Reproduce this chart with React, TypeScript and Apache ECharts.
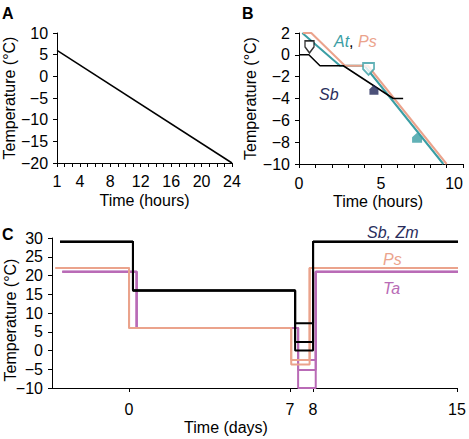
import React, { useEffect, useRef } from "react";
import * as echarts from "echarts";

// ---------- Panel A ----------
const aTime = [1, 24];
const aTemp = [6, -20];
const aTickLabels = [1, 4, 8, 12, 16, 20, 24];

// ---------- Panel B ----------
const bSbTime = [0, 0.6, 1.28, 2.7, 5.75, 6.35];
const bSbTemp = [0, 0, -1, -1, -4, -4];
const bAtTime = [0.2, 2.5, 4.0, 8.8];
const bAtTemp = [2, -1, -1, -10];
const bPsTime = [0.25, 0.75, 2.8, 4.2, 9.0];
const bPsTemp = [2, 2, -1, -1, -10];
const bMarkTime = [0.64, 4.24, 4.57, 7.2];
const bMarkTemp = [0.72, -1.3, -3.2, -7.6];

// ---------- Panel C ----------
// change points (days): start, drop to acclimation, drop to freeze, recovery, end
const cSbTime = [-3.0, 0.17, 7.22, 8.0, 15.1];
const cSbLevels = [29, 16, 29];
const cSbFreeze = [7.3, 2.3, 0];
const cPsTime = [-3.2, 0, 7.05, 7.85, 15.1];
const cPsLevels = [22, 6, 22];
const cPsFreeze = [-2.5, -3.7];
const cTaTime = [-2.9, 0.33, 7.35, 8.13, 15.1];
const cTaLevels = [21, 6, 21];
const cTaFreeze = [-2.5, -5.2, -10];
const cDayTicks = [0, 7, 8, 15];

const BLACK = "#000000";
const TEAL = "#3a9ea4";
const SALMON = "#eba38c";
const PURPLE = "#b96bb6";
const NAVY = "#2a2d5c";
const FONT = "Liberation Sans";

// schematic (broken) time scale of panel C: the recovery week is drawn compressed
const REC = 0.894;
const toU = (d: number) => (d <= 8 ? d : 8 + (d - 8) * REC);

const stepLines = (t: number[], lv: number[], fr: number[]) =>
  fr.map((f) => [
    [t[0], lv[0]],
    [t[1], lv[0]],
    [t[1], lv[1]],
    [t[2], lv[1]],
    [t[2], f],
    [t[3], f],
    [t[3], lv[2]],
    [t[4], lv[2]],
  ].map(([d, v]) => [toU(d), v]));

const minus = (v: number) => (v < 0 ? "\u2212" + Math.abs(v) : String(v));

const shieldDown = "path://M0,0 L10,0 L10,6 L5,12 L0,6 Z";
const houseUp = "path://M5,0 L10,5 L10,11 L0,11 L0,5 Z";

export default function App() {
  const ref = useRef<HTMLDivElement>(null);
  useEffect(() => {
    if (!ref.current) return;
    const chart = echarts.init(ref.current, null, { renderer: "svg" });
    const label = { color: BLACK, fontSize: 16, fontFamily: FONT, fontWeight: "normal" };
    const nameStyle = { color: BLACK, fontSize: 16, fontFamily: FONT, fontWeight: "normal" };
    const axLine = { show: true, onZero: false, lineStyle: { color: BLACK, width: 1 } };
    const tick = { show: true, length: 4, lineStyle: { color: BLACK, width: 1 } };

    const series: any[] = [];
    series.push({
      type: "line", xAxisIndex: 0, yAxisIndex: 0, symbol: "none",
      data: aTime.map((t, i) => [t, aTemp[i]]),
      lineStyle: { color: BLACK, width: 1.5 },
    });
    series.push({
      type: "line", xAxisIndex: 1, yAxisIndex: 1, symbol: "none", clip: false,
      data: bAtTime.map((t, i) => [t, bAtTemp[i]]),
      lineStyle: { color: TEAL, width: 2 }, z: 2,
    });
    series.push({
      type: "line", xAxisIndex: 1, yAxisIndex: 1, symbol: "none", clip: false,
      data: bPsTime.map((t, i) => [t, bPsTemp[i]]),
      lineStyle: { color: SALMON, width: 2 }, z: 3,
    });
    series.push({
      type: "line", xAxisIndex: 1, yAxisIndex: 1, symbol: "none",
      data: bSbTime.map((t, i) => [t, bSbTemp[i]]),
      lineStyle: { color: BLACK, width: 1.5 }, z: 4,
    });
    const markStyles = [
      { symbol: shieldDown, size: [9, 12], style: { color: "#ffffff", borderColor: BLACK, borderWidth: 1.5 } },
      { symbol: shieldDown, size: [11, 12], style: { color: "#ffffff", borderColor: TEAL, borderWidth: 1.8 } },
      { symbol: houseUp, size: [9, 10], style: { color: "#1f2557" } },
      { symbol: houseUp, size: [10, 10], style: { color: TEAL } },
    ];
    bMarkTime.forEach((t, i) => {
      series.push({
        type: "scatter", xAxisIndex: 1, yAxisIndex: 1, z: 5,
        symbol: markStyles[i].symbol, symbolSize: markStyles[i].size,
        itemStyle: markStyles[i].style,
        data: [[t, bMarkTemp[i]]],
      });
    });
    const addC = (lines: number[][][], color: string, z: number) =>
      lines.forEach((d) =>
        series.push({
          type: "line", xAxisIndex: 2, yAxisIndex: 2, symbol: "none", clip: false,
          data: d, lineStyle: { color, width: 2 }, z,
        })
      );
    addC(stepLines(cTaTime, cTaLevels, cTaFreeze), PURPLE, 2);
    addC(stepLines(cPsTime, cPsLevels, cPsFreeze), SALMON, 3);
    addC(stepLines(cSbTime, cSbLevels, cSbFreeze), BLACK, 4);

    const cTickU = cDayTicks.map(toU);

    chart.setOption({
      animation: false,
      textStyle: { fontFamily: FONT },
      grid: [
        { left: 57, top: 33, width: 175, height: 130 },
        { left: 299, top: 33, width: 164, height: 131 },
        { left: 52, top: 238, width: 405, height: 150 },
      ],
      xAxis: [
        {
          type: "value", gridIndex: 0, min: 1, max: 24, interval: 1,
          axisLine: axLine, axisTick: tick, splitLine: { show: false },
          axisLabel: { ...label, margin: 10, formatter: (v: number) => (aTickLabels.includes(v) ? String(v) : "") },
          name: "Time (hours)", nameLocation: "middle", nameGap: 29, nameTextStyle: nameStyle,
        },
        {
          type: "value", gridIndex: 1, min: 0, max: 10, interval: 1,
          axisLine: axLine, axisTick: tick, splitLine: { show: false },
          axisLabel: {
            ...label, margin: 11, alignMaxLabel: "right",
            formatter: (v: number) => (v % 5 === 0 ? String(v) : ""),
          },
          name: "Time (hours)", nameLocation: "middle", nameGap: 29, nameTextStyle: { ...nameStyle, padding: [0, 6, 0, 0] },
        },
        {
          type: "value", gridIndex: 2, min: -3.35, max: toU(15),
          axisLine: axLine, splitLine: { show: false },
          axisTick: { ...tick, customValues: cTickU },
          axisLabel: {
            ...label, margin: 13, customValues: cTickU,
            formatter: (v: number) => {
              const i = cTickU.findIndex((u) => Math.abs(u - v) < 1e-6);
              return i >= 0 ? String(cDayTicks[i]) : "";
            },
          },
          name: "Time (days)", nameLocation: "middle", nameGap: 31,
          nameTextStyle: { ...nameStyle, padding: [0, 57, 0, 0] },
        },
      ],
      yAxis: [
        {
          type: "value", gridIndex: 0, min: -20, max: 10, interval: 5,
          axisLine: axLine, axisTick: tick, splitLine: { show: false },
          axisLabel: { ...label, margin: 9, formatter: minus },
          name: "Temperature (\u00b0C)", nameLocation: "middle", nameGap: 40, nameTextStyle: nameStyle,
        },
        {
          type: "value", gridIndex: 1, min: -10, max: 2, interval: 2,
          axisLine: axLine, axisTick: tick, splitLine: { show: false },
          axisLabel: { ...label, margin: 9, formatter: minus },
          name: "Temperature (\u00b0C)", nameLocation: "middle", nameGap: 38, nameTextStyle: nameStyle,
        },
        {
          type: "value", gridIndex: 2, min: -10, max: 30, interval: 5,
          axisLine: axLine, axisTick: tick, splitLine: { show: false },
          axisLabel: { ...label, margin: 9, formatter: minus },
        },
      ],
      graphic: [
        { type: "text", left: 2, top: 5, style: { text: "A", font: `bold 16px ${FONT}`, fill: BLACK } },
        { type: "text", left: 242, top: 5, style: { text: "B", font: `bold 16px ${FONT}`, fill: BLACK } },
        { type: "text", left: 2, top: 226, style: { text: "C", font: `bold 16px ${FONT}`, fill: BLACK } },
        {
          type: "text", x: 10, y: 320, rotation: Math.PI / 2,
          style: {
            text: "Temperature (\u00b0C)", font: `16px ${FONT}`, fill: BLACK,
            align: "center", verticalAlign: "middle",
          },
        },
        {
          type: "text", left: 334, top: 33,
          style: {
            text: "{a|At}{b|, }{c|Ps}",
            rich: {
              a: { fill: TEAL, fontStyle: "italic", fontSize: 16, fontFamily: FONT },
              b: { fill: BLACK, fontSize: 16, fontFamily: FONT },
              c: { fill: SALMON, fontStyle: "italic", fontSize: 16, fontFamily: FONT },
            },
          },
        },
        { type: "text", left: 319, top: 86, style: { text: "Sb", font: `italic 16px ${FONT}`, fill: NAVY } },
        { type: "text", left: 367, top: 224, style: { text: "Sb, Zm", font: `italic 16px ${FONT}`, fill: NAVY } },
        { type: "text", left: 383, top: 251, style: { text: "Ps", font: `italic 16px ${FONT}`, fill: SALMON } },
        { type: "text", left: 383, top: 280, style: { text: "Ta", font: `italic 16px ${FONT}`, fill: PURPLE } },
      ],
      series,
    });
    return () => chart.dispose();
  }, []);
  return (
    <div
      ref={ref}
      style={{ position: "absolute", left: 0, top: 0, width: 469, height: 439, background: "#ffffff" }}
    />
  );
}
